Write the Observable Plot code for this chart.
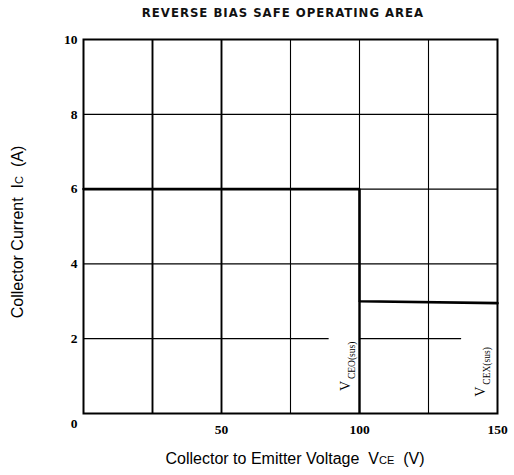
<!DOCTYPE html>
<html>
<head>
<meta charset="utf-8">
<script src="https://cdn.jsdelivr.net/npm/d3@7"></script>
<script src="https://cdn.jsdelivr.net/npm/@observablehq/plot@0.6"></script>
<style>
  body { margin: 0; background: #fff; }
  #wrap { position: relative; width: 514px; height: 475px; overflow: hidden; background: #fff; }
  #wrap svg { position: absolute; left: 0; top: 0; }
  .title { position: absolute; top: 5px; left: 26px; width: 514px; text-align: center;
           font-family: "DejaVu Sans Condensed", "DejaVu Sans", sans-serif; font-size: 13px;
           font-weight: bold; letter-spacing: 1px; color: #111; white-space: nowrap; }
  .lab { position: absolute; font-family: "Liberation Sans", Arial, sans-serif; font-size: 16px;
         color: #000; white-space: nowrap; }
  .lab .s { font-size: 11px; }
  .xl { left: 295px; top: 459px; transform: translate(-50%, -50%); }
  .yl { left: 18px; top: 232px; transform: translate(-50%, -50%) rotate(-90deg); }
</style>
</head>
<body>
<div id="wrap">
  <div class="title">REVERSE BIAS SAFE OPERATING AREA</div>
  <div class="lab xl">Collector to Emitter Voltage&nbsp; V<span class="s">CE</span>&nbsp; (V)</div>
  <div class="lab yl">Collector Current&nbsp; I<span class="s">C</span>&nbsp; (A)</div>
</div>
<script>
// ---- data ----
const xTicks = [50, 100, 150];
const yTicks = [2, 4, 6, 8, 10];
const zeroTick = [0];
const soaVoltage = [0, 100, 100, 150];
const soaCurrent = [6, 6, 3, 2.95];
const gridXHeavy = [25, 50];
const gridXLight = [75, 100, 125];
const gridY = [2, 2, 4, 6, 8];
const gridYFrom = [0, 100, 0, 0, 0];
const gridYTo = [89, 137, 150, 150, 150];
const sustainV = [100];
const sustainI = [3];
const limitNames = ["CEO(sus)", "CEX(sus)"];
const limitV = [95, 144];
const limitI = [0.6, 0.45];

const soa = soaVoltage.map((v, i) => ({v, c: soaCurrent[i]}));
const limits = limitNames.map((n, i) => ({n, v: limitV[i], c: limitI[i]}));

const serif = "'Liberation Serif', 'Times New Roman', serif";

const chart = Plot.plot({
  width: 514,
  height: 475,
  marginLeft: 83,
  marginRight: 17,
  marginTop: 39,
  marginBottom: 62,
  x: {domain: [0, 150]},
  y: {domain: [0, 10]},
  style: {background: "transparent", color: "#000"},
  marks: [
    Plot.ruleX(gridXHeavy, {x: d => d, stroke: "#000", strokeWidth: 1.9}),
    Plot.ruleX(gridXLight, {x: d => d, stroke: "#000", strokeWidth: 1.1}),
    Plot.ruleY(gridY, {y: d => d, x1: (d, i) => gridYFrom[i], x2: (d, i) => gridYTo[i], stroke: "#000", strokeWidth: 1.3}),
    Plot.ruleX(sustainV, {x: d => d, y1: 0, y2: (d, i) => sustainI[i], stroke: "#000", strokeWidth: 2.4}),
    Plot.line(soa, {x: "v", y: "c", stroke: "#000", strokeWidth: 2.6, strokeLinejoin: "miter"}),
    Plot.frame({stroke: "#000", strokeWidth: 2}),
    Plot.text(limits, {x: "v", y: "c", text: () => "V", rotate: -90, textAnchor: "start",
      fontFamily: serif, fontSize: 14, fill: "#000"}),
    Plot.text(limits, {x: "v", y: "c", text: "n", rotate: -90, textAnchor: "start",
      dx: 6, dy: -12, fontFamily: serif, fontSize: 9.5, fill: "#000"}),
    Plot.axisX({ticks: xTicks, tickSize: 0, tickPadding: 11, fontFamily: serif, fontSize: 13.5, fontWeight: "bold", label: null}),
    Plot.axisY({ticks: yTicks, tickSize: 0, tickPadding: 6, fontFamily: serif, fontSize: 13.5, fontWeight: "bold", label: null}),
    Plot.axisY({ticks: zeroTick, tickSize: 0, tickPadding: 6, dy: 10, fontFamily: serif, fontSize: 13.5, fontWeight: "bold", label: null})
  ]
});
document.getElementById("wrap").prepend(chart);
</script>
</body>
</html>
